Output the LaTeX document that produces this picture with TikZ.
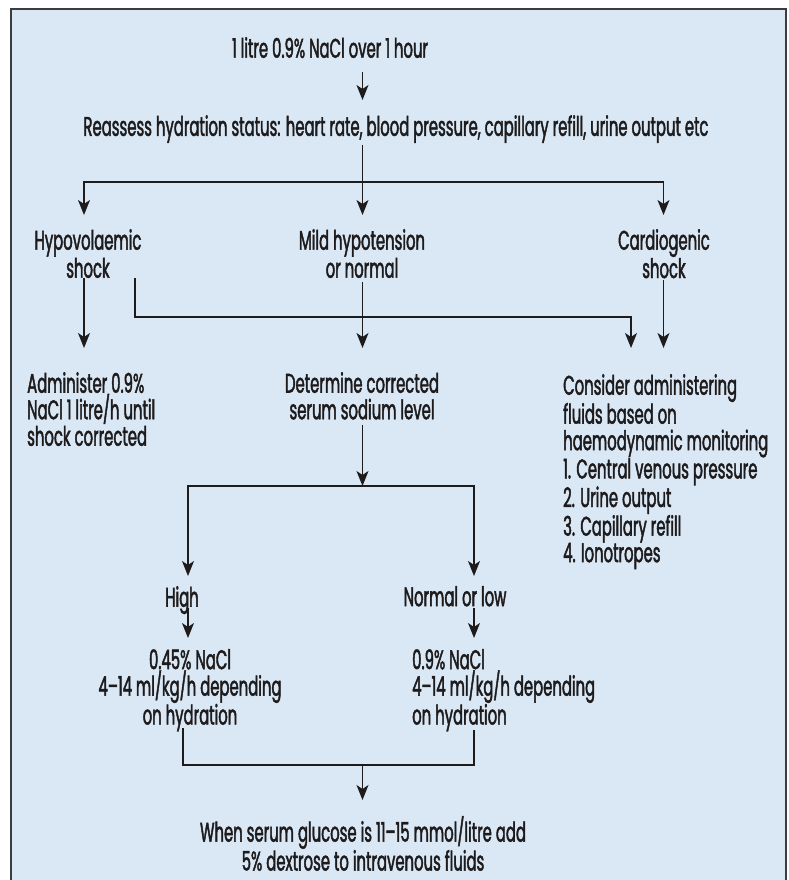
\documentclass[tikz,border=0pt]{standalone}
\usepackage{fontspec}
\usetikzlibrary{arrows.meta,calc}
\newfontfamily\probefont{Poppins}[FakeBold=1.6]
\newlength\probelen
\settowidth\probelen{\probefont\fontsize{27}{26}\selectfont Reassess hydration status: heart rate, blood pressure, capillary refill, urine output etc}
\pgfmathsetmacro\fstretch{625/\probelen}
\edef\tmpfontdef{\noexpand\newfontfamily\noexpand\diagfont{Poppins}[FakeStretch=\fstretch,FakeBold=1.6]}
\tmpfontdef
\definecolor{bgblue}{RGB}{218,232,245}
\definecolor{framegray}{RGB}{60,60,60}
\definecolor{ink}{RGB}{30,27,28}
\begin{document}
\begin{tikzpicture}[x=1pt,y=-1pt,
  txt/.style={inner sep=0pt, font=\diagfont\fontsize{27}{26.5}\selectfont, text=ink},
  arr/.style={draw=ink, line width=1.4pt, -{Stealth[length=15pt,width=12pt,inset=4pt]}},
  ln/.style={draw=ink, line width=1.4pt}]
\useasboundingbox (0,0) rectangle (789,880);
\fill[white] (0,0) rectangle (789,880);
\fill[bgblue] (11,9) rectangle (786,880);
\draw[framegray, line width=1.6pt] (11,881) -- (11,9) -- (786,9) -- (786,881);

% x positions of connector lines
\coordinate (xT) at (362.5,0);
\coordinate (xH) at (84,0);
\coordinate (xC) at (663.5,0);
\coordinate (xHs) at (135,0);
\coordinate (xCs) at (631,0);
\coordinate (xL) at (188,0);
\coordinate (xR) at (474,0);
\coordinate (xL2) at (183,0);

% nodes
\node[txt, anchor=north] (n1) at (330,37) {1 litre 0.9\% NaCl over 1 hour};
\node[txt, anchor=north] (n2) at (396,115) {Reassess hydration status: heart rate, blood pressure, capillary refill, urine output etc};
\node[txt, anchor=north, align=center] (hypo) at (88,229) {Hypovolaemic\\shock};
\node[txt, anchor=north, align=center] (mild) at (362,229) {Mild hypotension\\or normal};
\node[txt, anchor=north, align=center] (cardio) at (664,229) {Cardiogenic\\shock};
\node[txt, anchor=north west, align=left] (admin) at (27,372) {Administer 0.9\%\\NaCl 1 litre/h until\\shock corrected};
\node[txt, anchor=north, align=center] (determ) at (362,372) {Determine corrected\\serum sodium level};
\node[txt, anchor=north west, align=left] (consider) at (563,374) {Consider administering\\fluids based on\\haemodynamic monitoring\\1. Central venous pressure\\2. Urine output\\3. Capillary refill\\4. Ionotropes};
\node[txt, anchor=north] (high) at (182,586) {High};
\node[txt, anchor=north] (normlow) at (455,586) {Normal or low};
\node[txt, anchor=north, align=center] (nhigh) at (190,649) {0.45\% NaCl\\4–14 ml/kg/h depending\\on hydration};
\node[txt, anchor=north west, align=left] (nnorm) at (412,649) {0.9\% NaCl\\4–14 ml/kg/h depending\\on hydration};
\node[txt, anchor=north, align=center] (when) at (363,816) {When serum glucose is 11–15 mmol/litre add\\5\% dextrose to intravenous fluids};

% junctions
\coordinate (split1) at (362.5,182);
\coordinate (jc) at (631,317);
\coordinate (split2) at (362.5,486);
\coordinate (mL) at (183,765);
\coordinate (mR) at (474,765);
\coordinate (merge) at (362.5,765);

% connectors
\draw[arr] ($(n1.north -| xT)+(0,35)$) -- ($(n2.north -| xT)+(0,-15)$);
\draw[ln] ($(n2.north -| xT)+(0,30)$) -- (split1);
\draw[arr] (split1) -| ($(hypo.north -| xH)+(0,-14)$);
\draw[arr] (split1) -- ($(mild.north -| xT)+(0,-14)$);
\draw[arr] (split1) -| ($(cardio.north -| xC)+(0,-14)$);

\draw[arr] ($(hypo.north -| xH)+(0,49)$) -- ($(admin.north -| xH)+(0,-24)$);
\draw[arr] ($(hypo.north -| xHs)+(0,49)$) |- (jc) -- ($(consider.north -| xCs)+(0,-26)$);
\draw[arr] ($(mild.north -| xT)+(0,53)$) -- ($(determ.north -| xT)+(0,-24)$);
\draw[arr] ($(cardio.north -| xC)+(0,51)$) -- ($(consider.north -| xC)+(0,-26)$);

\draw[arr] ($(determ.north -| xT)+(0,53)$) -- (split2);
\draw[arr] (split2) -| ($(high.north -| xL)+(0,-10)$);
\draw[arr] (split2) -| ($(normlow.north -| xR)+(0,-10)$);

\draw[arr] ($(high.north -| xL)+(0,22)$) -- ($(nhigh.north -| xL)+(0,-11)$);
\draw[arr] ($(normlow.north -| xR)+(0,22)$) -- ($(nnorm.north -| xR)+(0,-11)$);

\draw[ln] ($(nhigh.north -| xL2)+(0,79)$) -- (mL) -- (mR) -- ($(nnorm.north -| xR)+(0,81)$);
\draw[arr] (merge) -- ($(when.north -| xT)+(0,-16)$);
\end{tikzpicture}
\end{document}
